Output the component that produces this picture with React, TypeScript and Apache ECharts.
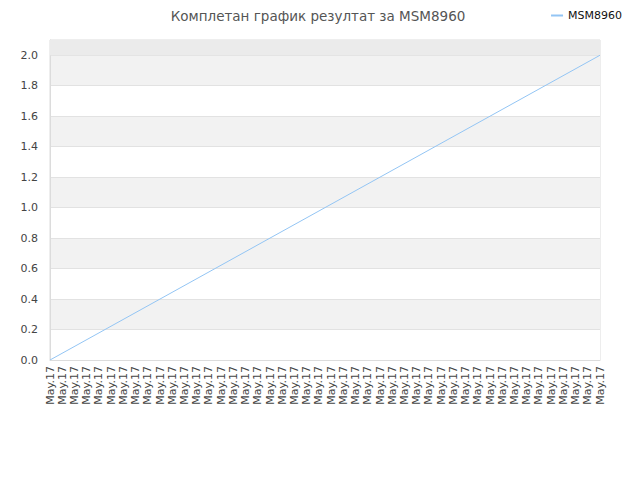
import { useEffect, useRef } from 'react';
import * as echarts from 'echarts';

const TITLE = 'Комплетан график резултат за MSM8960';
const SERIES_NAME = 'MSM8960';
// 46 day labels on the x axis, all the same date
const categories: string[] = Array(46).fill('May.17');
const firstValue = 0;
const lastValue = 2.0;
const values: (number | null)[] = categories.map((_, i) =>
  i === 0 ? firstValue : i === categories.length - 1 ? lastValue : null
);

const FONT = 'DejaVu Sans';
const LINE_COLOR = '#93c5f4';
const GRID_COLOR = '#e2e2e2';
const TEXT_COLOR = '#444';

export default function App() {
  const ref = useRef<HTMLDivElement>(null);

  useEffect(() => {
    if (!ref.current) return;
    const chart = echarts.init(ref.current, undefined, { renderer: 'svg' });
    chart.setOption({
      animation: false,
      backgroundColor: '#fff',
      textStyle: { fontFamily: FONT },
      title: {
        text: TITLE,
        left: 313,
        textAlign: 'center',
        top: 4,
        textStyle: { fontFamily: FONT, fontSize: 13.5, fontWeight: 'normal', color: '#555' },
      },
      legend: {
        right: 13,
        top: 5,
        itemWidth: 12,
        itemHeight: 2,
        itemGap: 8,
        icon: 'rect',
        textStyle: { fontFamily: FONT, fontSize: 11, color: '#111' },
        data: [SERIES_NAME],
      },
      grid: {
        left: 50,
        right: 40,
        top: 40,
        bottom: 120,
        show: true,
        borderColor: '#dcdcdc',
        borderWidth: 1,
      },
      xAxis: {
        type: 'category',
        data: categories,
        boundaryGap: false,
        axisLine: { lineStyle: { color: '#dcdcdc' } },
        axisTick: { show: false },
        axisLabel: {
          interval: 0,
          rotate: 90,
          margin: 6,
          fontFamily: FONT,
          fontSize: 11,
          color: TEXT_COLOR,
        },
        splitLine: { show: false },
      },
      yAxis: {
        type: 'value',
        min: 0,
        max: 2.1,
        interval: 0.2,
        axisLine: { show: true, lineStyle: { color: '#dcdcdc' } },
        axisTick: { show: false },
        axisLabel: {
          margin: 12,
          fontFamily: FONT,
          fontSize: 11,
          color: TEXT_COLOR,
          formatter: (v: number) => (v > 2.05 ? '' : v.toFixed(1)),
        },
        splitLine: { show: true, lineStyle: { color: GRID_COLOR } },
        splitArea: { show: true, areaStyle: { color: ['#ffffff', '#f2f2f2'] } },
      },
      series: [
        {
          name: SERIES_NAME,
          type: 'line',
          data: values,
          connectNulls: true,
          symbol: 'none',
          itemStyle: { color: LINE_COLOR },
          lineStyle: { color: LINE_COLOR, width: 1 },
          markArea: {
            silent: true,
            itemStyle: { color: '#ebebeb' },
            data: [[{ yAxis: 2.0 }, { yAxis: 2.1 }]],
          },
        },
      ],
    });
    return () => chart.dispose();
  }, []);

  return (
    <div
      ref={ref}
      style={{ position: 'fixed', left: 0, top: 0, width: 640, height: 480 }}
    />
  );
}
